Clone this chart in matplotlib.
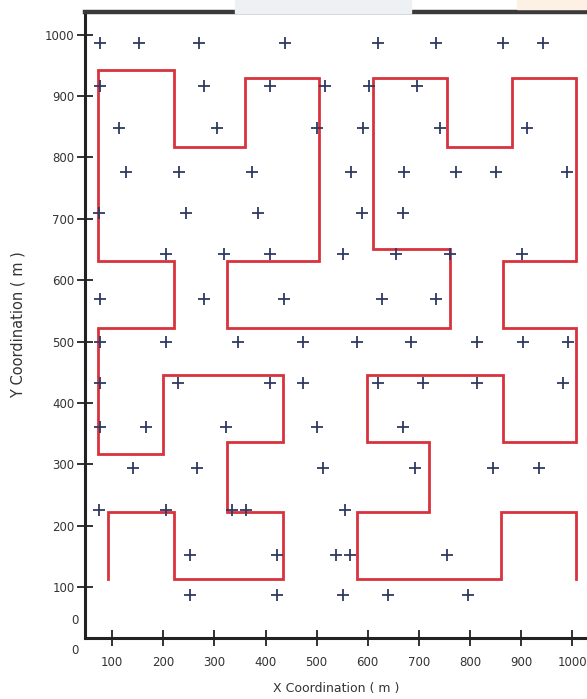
import numpy as np
import matplotlib
matplotlib.use("Agg")
import matplotlib.pyplot as plt
from matplotlib.patches import Rectangle

# sensor node positions (m), one list per row
node_rows = [987, 916, 848, 777, 710, 643, 570, 499, 432, 361, 294, 225, 152, 87]
node_x = [
    [77, 153, 270, 439, 621, 734, 865, 943],
    [77, 280, 409, 517, 603, 697],
    [114, 306, 501, 591, 742, 912],
    [127, 231, 374, 568, 671, 773, 851, 990],
    [75, 245, 386, 589, 669],
    [206, 319, 409, 552, 656, 761, 902],
    [77, 280, 437, 628, 734],
    [77, 206, 347, 474, 579, 685, 814, 904, 992],
    [77, 229, 409, 474, 621, 709, 814, 983],
    [77, 167, 323, 501, 669],
    [141, 266, 513, 693, 846, 936],
    [75, 206, 335, 362, 556],
    [253, 423, 538, 566, 756],
    [253, 423, 552, 640, 797],
]

# mobile sink trajectory
path_x = [92, 92, 220, 220, 435, 435, 325, 325, 435, 435, 200, 200, 73, 73,
          220, 220, 73, 73, 220, 220, 360, 360, 505, 505, 325, 325, 761, 761,
          611, 611, 756, 756, 883, 883, 1008, 1008, 865, 865, 1008, 1008, 865,
          865, 599, 599, 720, 720, 579, 579, 861, 861, 1008, 1008]
path_y = [113, 223, 223, 113, 113, 223, 223, 336, 336, 445, 445, 317, 317, 522,
          522, 631, 631, 943, 943, 817, 817, 930, 930, 631, 631, 522, 522, 651,
          651, 930, 930, 817, 817, 930, 930, 631, 631, 522, 522, 336, 336,
          445, 445, 336, 336, 223, 223, 113, 113, 223, 223, 113]

xticks = [100, 200, 300, 400, 500, 600, 700, 800, 900, 1000]
yticks = [100, 200, 300, 400, 500, 600, 700, 800, 900, 1000]

nx = np.concatenate([np.array(r, dtype=float) for r in node_x])
ny = np.concatenate([np.full(len(r), y, dtype=float) for r, y in zip(node_x, node_rows)])

fig = plt.figure(figsize=(5.87, 6.99), dpi=100)
fig.patches.append(Rectangle((0.40, 0.981), 0.30, 0.019, transform=fig.transFigure,
                             color="#eef1f4", zorder=0))
fig.patches.append(Rectangle((0.88, 0.987), 0.12, 0.013, transform=fig.transFigure,
                             color="#fdf1e6", zorder=0))

ax = fig.add_axes([0.145, 0.087, 0.855, 0.896])
ax.plot(path_x, path_y, color="#d8323c", lw=2.0, solid_joinstyle="miter", zorder=2)
ax.plot(nx, ny, ls="none", marker="+", ms=9, mew=1.3, color="#2e3a62", zorder=3)

ax.set_xlim(47, 1029)
ax.set_ylim(17, 1037)
ax.set_xticks(xticks)
ax.set_yticks(yticks)
ax.tick_params(axis="both", direction="inout", length=11, width=1.3, color="#222222",
               labelsize=8.5, labelcolor="#333333")
ax.tick_params(axis="y", pad=2)
ax.tick_params(axis="x", pad=7)

ax.spines["right"].set_visible(False)
ax.spines["top"].set_linewidth(3.2)
ax.spines["top"].set_color("#3a3a3a")
ax.spines["left"].set_linewidth(2.2)
ax.spines["bottom"].set_linewidth(2.2)
ax.spines["left"].set_color("#222222")
ax.spines["bottom"].set_color("#222222")

# stray zero labels on both axes
ax.text(-0.012, 46, "0", transform=ax.get_yaxis_transform(), ha="right", va="center",
        fontsize=8.5, color="#333333")
ax.text(-0.012, -0.02, "0", transform=ax.transAxes, ha="right", va="center",
        fontsize=8.5, color="#333333")

ax.set_xlabel("X Coordination ( m )", fontsize=9, color="#333333", labelpad=10)
ax.set_ylabel("Y Coordination ( m )", fontsize=10.5, color="#333333", labelpad=14)

plt.savefig("out.png", dpi=100)
